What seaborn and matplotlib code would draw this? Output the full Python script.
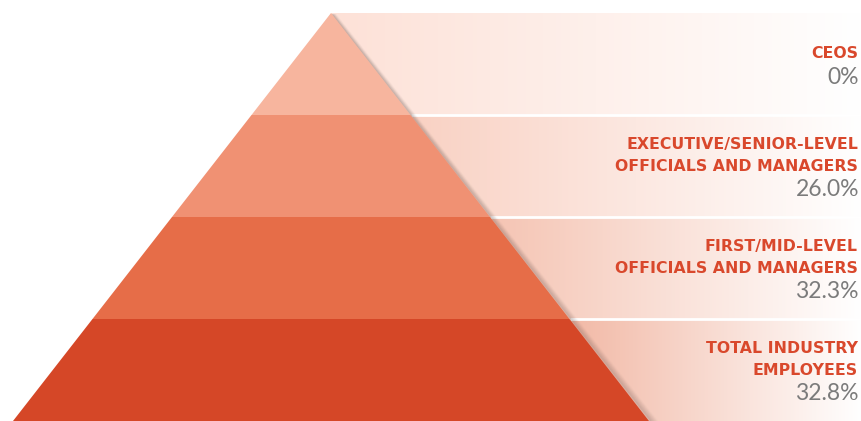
import numpy as np
import matplotlib
matplotlib.use("Agg")
import matplotlib.pyplot as plt
import matplotlib.colors as mcolors
import seaborn as sns

# ---------- data ----------
levels = [
    "CEOS",
    "EXECUTIVE/SENIOR-LEVEL\nOFFICIALS AND MANAGERS",
    "FIRST/MID-LEVEL\nOFFICIALS AND MANAGERS",
    "TOTAL INDUSTRY\nEMPLOYEES",
]
shares = [0, 26.0, 32.3, 32.8]

band_colors = ["#f7b59e", "#f09173", "#e66d48", "#d54727"]
panel_colors = ["#fde1d7", "#f9d1c3", "#f5c4b3", "#f2b9a6"]
label_color = "#d9482c"
value_color = "#7b7b7b"

# ---------- layout (pixel coordinates) ----------
W, H = 861, 421
apex_x, apex_y = 331, 13
base_y = 421
half_base = 318
slope = half_base / (base_y - apex_y)
band_h = (base_y - apex_y) / len(levels)

sns.set_theme(style="white")
plt.rcParams["font.family"] = ["DejaVu Sans"]

fig = plt.figure(figsize=(W / 100, H / 100), dpi=100)
ax = fig.add_axes([0, 0, 1, 1])


def left_x(y):
    return apex_x - slope * (y - apex_y)


def right_x(y):
    return apex_x + slope * (y - apex_y)


# ---------- gradient panels behind the pyramid ----------
for i, pc in enumerate(panel_colors):
    yt = apex_y + i * band_h
    yb = yt + band_h
    x0 = right_x(yt) if i > 0 else apex_x
    n = 256
    start = np.array(mcolors.to_rgb(pc))
    t = np.linspace(0, 1, n)[:, None]
    grad = start * (1 - t) + np.ones(3) * t
    ax.imshow(grad[None, :, :], extent=(x0, W, yb, yt), aspect="auto",
              interpolation="bilinear", zorder=1)

# white separators
for i in range(1, len(levels)):
    y = apex_y + i * band_h
    ax.plot([right_x(y), W], [y, y], color="white", lw=2, zorder=2,
            solid_capstyle="butt")

# soft shadow along the right edge
for d in np.arange(1, 9):
    ax.plot([apex_x + d * 0.6, right_x(base_y) + d], [apex_y + 2, base_y],
            color="#6d5a55", lw=1.6, alpha=0.14 * (1 - d / 9), zorder=3)

# ---------- pyramid bands ----------
for i, bc in enumerate(band_colors):
    yt = apex_y + i * band_h
    yb = yt + band_h
    xs = [left_x(yt), right_x(yt), right_x(yb), left_x(yb)]
    ys = [yt, yt, yb, yb]
    ax.fill(xs, ys, color=bc, lw=0, zorder=4)

# ---------- labels ----------
line_gap = 22
for i, (lab, val) in enumerate(zip(levels, shares)):
    lines = lab.split("\n")
    n = len(lines)
    c = apex_y + (i + 0.5) * band_h
    y0 = c - (line_gap * (n - 1) + 23) / 2
    for j, ln in enumerate(lines):
        ax.text(858, y0 + line_gap * j + 5.5, ln, ha="right", va="baseline",
                fontsize=11.3, fontweight="bold", color=label_color, zorder=5)
    txt = f"{val:g}%" if val == 0 else f"{val:.1f}%"
    ax.text(859, y0 + line_gap * (n - 1) + 23 + 8, txt, ha="right",
            va="baseline", fontsize=16.5, fontweight="normal",
            family=["Lato", "DejaVu Sans"], color=value_color, zorder=5)

ax.set_xlim(0, W)
ax.set_ylim(H, 0)
ax.axis("off")

fig.savefig("out.png", dpi=100, facecolor="white")
